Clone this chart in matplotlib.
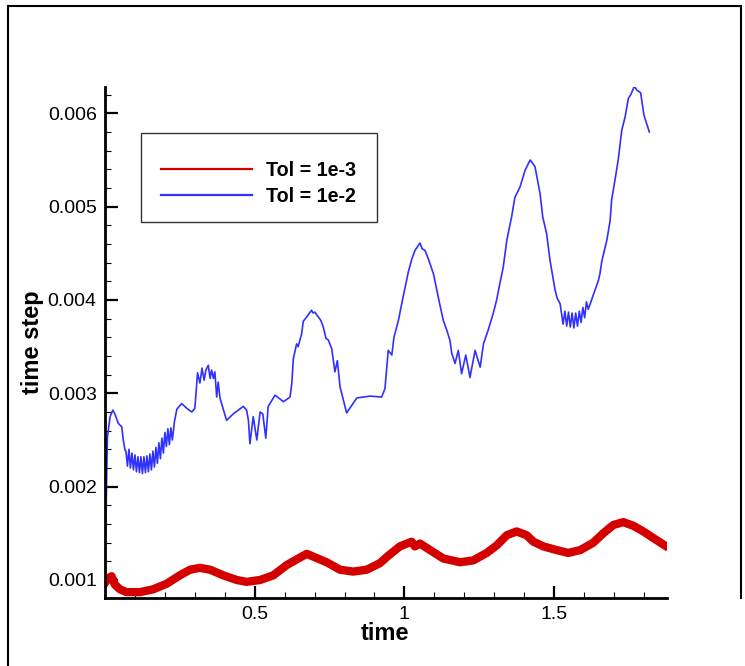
import matplotlib
matplotlib.use('Agg')
import matplotlib.pyplot as plt
from matplotlib.lines import Line2D
from matplotlib.patches import Rectangle
from matplotlib.ticker import MultipleLocator, FixedLocator, FixedFormatter

plt.rcParams['font.family'] = ['Liberation Sans', 'DejaVu Sans']

# Tol = 1e-2 (blue)
blue_t = [0.002, 0.008, 0.017, 0.026, 0.033, 0.044, 0.056, 0.061, 0.067,
          0.070, 0.075, 0.080, 0.085, 0.090, 0.095, 0.100, 0.105, 0.110, 0.115,
          0.120, 0.125, 0.130, 0.135, 0.140, 0.145, 0.150, 0.155, 0.160, 0.165,
          0.170, 0.175, 0.180, 0.185, 0.190, 0.195, 0.200, 0.205, 0.210, 0.215,
          0.220, 0.225,
          0.232, 0.240, 0.256, 0.273, 0.290, 0.300,
          0.304, 0.309, 0.317, 0.324, 0.331, 0.337, 0.345, 0.351, 0.356, 0.362,
          0.367, 0.373, 0.378, 0.384, 0.406, 0.4285, 0.462, 0.473, 0.479, 0.484,
          0.495, 0.507, 0.518, 0.527, 0.537, 0.545, 0.568, 0.596, 0.618, 0.624,
          0.629, 0.640, 0.645, 0.657, 0.662, 0.674, 0.690, 0.695, 0.701, 0.712,
          0.721, 0.729, 0.738, 0.746, 0.757, 0.768, 0.776, 0.785, 0.807, 0.824,
          0.841, 0.885, 0.924, 0.935, 0.946, 0.958, 0.965, 0.980, 0.991, 1.002,
          1.013, 1.024, 1.035, 1.052, 1.059, 1.069, 1.080, 1.097, 1.108, 1.119,
          1.130, 1.141, 1.152, 1.158, 1.169, 1.180, 1.191, 1.205, 1.219, 1.236,
          1.253, 1.264, 1.280, 1.297, 1.308, 1.319, 1.330, 1.342, 1.358, 1.369,
          1.386, 1.403, 1.420, 1.436, 1.453, 1.462, 1.475, 1.486, 1.503, 1.510,
          1.520,
          1.525, 1.530, 1.536, 1.542, 1.548, 1.554, 1.560, 1.566, 1.572, 1.578,
          1.584, 1.590, 1.596, 1.602, 1.608, 1.614,
          1.637, 1.648, 1.653, 1.659, 1.676, 1.687, 1.692, 1.703, 1.714, 1.726,
          1.737, 1.748, 1.756, 1.768, 1.776, 1.789, 1.800, 1.809, 1.818]
blue_dt = [0.00146, 0.00253, 0.00275, 0.00282, 0.00278, 0.00268, 0.00264, 0.00250, 0.00239,
           0.00238, 0.00222, 0.00240, 0.00220, 0.00236, 0.00218, 0.00234, 0.00216, 0.00232, 0.00215,
           0.00232, 0.00214, 0.00232, 0.00215, 0.00233, 0.00216, 0.00235, 0.00218, 0.00238, 0.00221,
           0.00242, 0.00225, 0.00247, 0.00230, 0.00252, 0.00236, 0.00258, 0.00243, 0.00262, 0.00245,
           0.00263, 0.00250,
           0.00270, 0.00283, 0.00289, 0.00284, 0.00280, 0.00284,
           0.00300, 0.00322, 0.00311, 0.00327, 0.00314, 0.00325, 0.00330, 0.00316, 0.00325, 0.00316,
           0.00323, 0.00296, 0.00312, 0.00295, 0.00271, 0.00278, 0.00286, 0.00282, 0.00271, 0.00246,
           0.00275, 0.00250, 0.00280, 0.00278, 0.00252, 0.00286, 0.00298, 0.00291, 0.00296, 0.00311,
           0.00337, 0.00353, 0.00350, 0.00364, 0.00377, 0.00382, 0.00389, 0.00386, 0.00387, 0.00382,
           0.00378, 0.00371, 0.00359, 0.00357, 0.00348, 0.00323, 0.00335, 0.00307, 0.00279, 0.00287,
           0.00295, 0.00297, 0.00296, 0.00305, 0.00346, 0.00341, 0.00360, 0.00378, 0.00396, 0.00413,
           0.00430, 0.00443, 0.00453, 0.00461, 0.00455, 0.00453, 0.00444, 0.00428, 0.00411, 0.00394,
           0.00378, 0.00368, 0.00357, 0.00343, 0.00332, 0.00346, 0.00321, 0.00341, 0.00317, 0.00346,
           0.00328, 0.00353, 0.00368, 0.00386, 0.00400, 0.00418, 0.00435, 0.00464, 0.00489, 0.00510,
           0.00521, 0.00539, 0.00550, 0.00543, 0.00514, 0.00489, 0.00471, 0.00443, 0.00411, 0.00402,
           0.00396,
           0.00385, 0.00374, 0.00388, 0.00372, 0.00387, 0.00371, 0.00386, 0.00370, 0.00386, 0.00372,
           0.00388, 0.00376, 0.00392, 0.00381, 0.00398, 0.00390,
           0.00411, 0.00421, 0.00428, 0.00441, 0.00464, 0.00485, 0.00507, 0.00528, 0.00550, 0.00582,
           0.00596, 0.00616, 0.00620, 0.00629, 0.00625, 0.00622, 0.00598, 0.00589, 0.00580]

# Tol = 1e-3 (red), centre of the thick band
red_t = [0.000, 0.011, 0.022, 0.033, 0.050, 0.072, 0.117, 0.161, 0.206, 0.250,
         0.284, 0.317, 0.351, 0.395, 0.440, 0.473, 0.518, 0.562, 0.607, 0.651,
         0.674, 0.696, 0.740, 0.785, 0.829, 0.874, 0.918, 0.946, 0.985, 1.024,
         1.035, 1.052, 1.086, 1.130, 1.186, 1.230, 1.275, 1.308, 1.342, 1.375,
         1.408, 1.431, 1.464, 1.509, 1.547, 1.587, 1.631, 1.664, 1.698, 1.731,
         1.765, 1.798, 1.831, 1.870]
red_dt = [0.00097, 0.00102, 0.00104, 0.00095, 0.00090, 0.00087, 0.00087, 0.00090, 0.00096, 0.00105,
          0.00111, 0.00113, 0.00111, 0.00105, 0.00100, 0.00098, 0.00100, 0.00105, 0.00116, 0.00124,
          0.00128, 0.00125, 0.00119, 0.00111, 0.00109, 0.00111, 0.00118, 0.00126, 0.00136, 0.00141,
          0.00136, 0.00139, 0.00132, 0.00123, 0.00119, 0.00121, 0.00129, 0.00137, 0.00148, 0.00152,
          0.00148, 0.00141, 0.00136, 0.00132, 0.00129, 0.00132, 0.00140, 0.00150, 0.00159, 0.00162,
          0.00158, 0.00152, 0.00145, 0.00137]

x_ticks = [0.5, 1.0, 1.5]
x_labels = ['0.5', '1', '1.5']
y_ticks = [0.001, 0.002, 0.003, 0.004, 0.005, 0.006]
y_labels = ['0.001', '0.002', '0.003', '0.004', '0.005', '0.006']

W, H = 745, 666
fig = plt.figure(figsize=(W / 100, H / 100), dpi=100)
ax = fig.add_axes([105 / W, 1 - 598 / H, (666.7 - 105) / W, (598 - 86.7) / H])

red = '#d40000'
blue = '#3030ff'
ax.plot(red_t, red_dt, color=red, lw=6.0, solid_joinstyle='round', label='Tol = 1e-3')
ax.plot(blue_t, blue_dt, color=blue, lw=1.2, label='Tol = 1e-2')

ax.set_xlim(0, 1.876)
ax.set_ylim(0.000807, 0.006285)

for s in ['top', 'right']:
    ax.spines[s].set_visible(False)
for s in ['left', 'bottom']:
    ax.spines[s].set_linewidth(2.0)

ax.xaxis.set_major_locator(FixedLocator(x_ticks))
ax.xaxis.set_major_formatter(FixedFormatter(x_labels))
ax.xaxis.set_minor_locator(MultipleLocator(0.1))
ax.yaxis.set_major_locator(FixedLocator(y_ticks))
ax.yaxis.set_major_formatter(FixedFormatter(y_labels))
ax.yaxis.set_minor_locator(MultipleLocator(0.0002))
ax.tick_params(which='both', direction='in', labelsize=14, pad=6)
ax.tick_params(which='major', length=9, width=1.6)
ax.tick_params(which='minor', length=4.5, width=0.8)

fig.text(385 / W, 1 - 633 / H, 'time', fontsize=17, fontweight='bold', ha='center', va='center')
fig.text(33 / W, 1 - 342 / H, 'time step', fontsize=17, fontweight='bold', rotation=90,
         ha='center', va='center')

# legend: frame drawn by hand so its size matches
fig.patches.append(Rectangle((140.7 / W, 1 - 222.3 / H), (377.3 - 140.7) / W, (222.3 - 132.7) / H,
                             transform=fig.transFigure, fill=False, edgecolor='#333333', lw=1.0))
handles = [Line2D([], [], color=red, lw=1.6), Line2D([], [], color=blue, lw=1.6)]
fig.legend(handles, ['Tol = 1e-3', 'Tol = 1e-2'], loc='center left',
           bbox_to_anchor=(161 / W, 1 - 183.5 / H), frameon=False,
           prop={'size': 14.2, 'weight': 'bold'}, handlelength=4.6, handletextpad=0.7,
           labelspacing=0.32, borderpad=0, borderaxespad=0)

# outer figure border
fig.add_artist(Line2D([8 / W, 8 / W], [0, 1 - 6 / H], color='black', lw=1.5, transform=fig.transFigure))
fig.add_artist(Line2D([8 / W, 741 / W], [1 - 6 / H, 1 - 6 / H], color='black', lw=1.5, transform=fig.transFigure))
fig.add_artist(Line2D([741 / W, 741 / W], [1 - 6 / H, 1 - 598 / H], color='black', lw=1.5, transform=fig.transFigure))

fig.savefig('out.png', dpi=100)
